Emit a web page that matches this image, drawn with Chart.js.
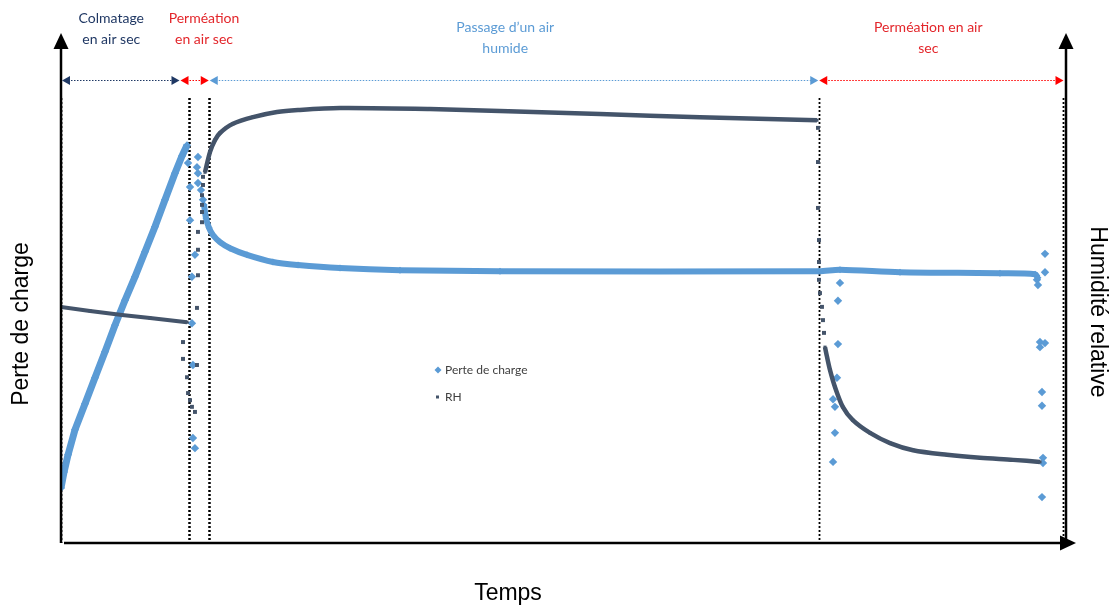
<!DOCTYPE html>
<html lang="fr">
<head>
<meta charset="utf-8">
<title>Perte de charge et humidité relative</title>
<script src="https://cdn.jsdelivr.net/npm/chart.js@4.4.1/dist/chart.umd.min.js"></script>
<style>
  html, body { margin: 0; padding: 0; background: #fff; }
</style>
</head>
<body>
<canvas id="myChart" width="1112" height="607"></canvas>
<script>
// Data: [temps, valeur] (arbitrary units, 0-1000 / 0-100)
const perteRampe = [[0,10.8],[3,13.9],[7,17.3],[13.9,22.2],[23.9,27.3],[33.8,32.4],[43.8,37.5],[53.7,42.7],
  [63.7,47.6],[73.6,52.2],[83.6,57.1],[93.5,62.0],[103.5,67.3],[113.4,72.5],[120.4,75.9],[125.4,78.0]];
const perteDecroissance = [[142.3,66.3],[144.3,63.7],[147.3,61.8],[151.2,60.4],[158.2,59.0],[168.2,57.8],[185.1,56.5],
  [210.9,55.1],[235.8,54.5],[277.6,53.9],[337.3,53.5],[436.8,53.3],[754.2,53.3],[775.1,53.6],[834.8,53.1],
  [934.3,52.9],[969.2,52.7],[972.1,52.0]];
const perteIsoles = [[136.3,75.7],[126.4,74.5],[135.3,73.7],[136.3,72.5],[136.3,70.6],[128.4,69.8],[139.3,69.2],
  [141.3,67.3],[128.4,63.3],[133.3,56.5],[130.3,52.2],[130.3,43.1],[131.3,34.9],[131.3,20.6],[133.3,18.6],
  [775.1,51.0],[773.1,47.5],[773.1,39.0],[772.1,32.4],[768.2,28.2],[770.1,26.7],[770.1,21.6],[768.2,15.9],
  [979.1,56.7],[979.1,53.1],[971.1,51.6],[972.1,50.6],[974.1,39.4],[979.1,39.2],[974.1,38.4],[976.1,29.6],
  [976.1,26.9],[977.1,16.7],[977.1,15.7],[976.1,9.0]];

const rhDebut = [[0,46.3],[28.9,45.5],[60.7,44.7],[88.6,44.1],[125.4,43.3]];
const rhMontee = [[143.3,72.7],[148.3,76.7],[153.2,79.0],[158.2,80.4],[171.1,82.2],[191.0,83.5],[214.9,84.5],
  [235.8,84.9],[277.6,85.3],[367.2,85.1],[436.8,84.7],[536.3,84.1],[635.8,83.5],[752.2,82.9]];
const rhSechage = [[760.2,38.4],[762.2,36.5],[765.2,33.9],[770.1,30.6],[777.9,26.7],[787.9,24.1],[805.0,21.6],
  [824.9,19.6],[847.8,18.2],[881.6,17.3],[914.4,16.7],[947.3,16.3],[974.1,15.9]];
const rhIsoles = [[121.4,39.4],[121.4,36.1],[125.4,32.5],[126.4,29.4],[128.4,28.0],[130.3,26.7],[133.3,25.7],
  [135.3,34.9],[135.3,46.1],[136.3,52.5],[136.3,57.5],[136.3,61.0],[140.3,62.9],[140.3,64.9],[140.3,66.3],
  [140.3,68.2],[141.3,70.2],[141.3,71.8],
  [753.2,81.4],[753.2,74.7],[753.2,65.7],[754.2,59.4],[754.2,55.1],[754.2,51.6],[755.2,49.0],[757.2,46.3],
  [758.2,43.7],[759.2,41.2]];

// phases (top annotations)
const phaseLabels = [["Colmatage", "en air sec"], ["Perméation", "en air sec"], ["Passage d\u2019un air", "humide"], ["Perméation en air", "sec"]];
const phaseColors = ["#203864", "#e3262b", "#5b9bd5", "#e3262b"];
const arrowColors = ["#1f3864", "#ff0000", "#5b9bd5", "#ff0000"];
const phaseLimits = [0, 118.4, 147.5, 754, 998];
const dottedLines = [0, 127.4, 147.3, 754.2, 997];

const BLUE = "#5b9bd5";
const NAVY = "#44546a";

const pts = arr => arr.map(p => ({ x: p[0], y: p[1] }));

function serie(data, color, style, radius, line, width, tension) {
  return {
    data: pts(data),
    borderColor: color,
    backgroundColor: color,
    pointStyle: style,
    pointRadius: radius,
    pointBorderWidth: 0,
    showLine: line,
    borderWidth: width,
    tension: tension || 0
  };
}

function arrowHead(ctx, x, yy, dir, color) {
  ctx.fillStyle = color;
  ctx.beginPath();
  ctx.moveTo(x, yy);
  ctx.lineTo(x - dir * 8, yy - 4.5);
  ctx.lineTo(x - dir * 8, yy + 4.5);
  ctx.closePath();
  ctx.fill();
}

const decor = {
  id: 'decor',
  beforeDatasetsDraw(chart) {
    const { ctx, scales: { x, y } } = chart;
    ctx.save();
    ctx.strokeStyle = "#000";
    ctx.setLineDash([2, 2]);
    dottedLines.forEach((t, i) => {
      const px = Math.round(x.getPixelForValue(t)) + 0.5;
      ctx.lineWidth = (i === 1 || i === 2) ? 2.5 : 1.8;
      ctx.beginPath();
      ctx.moveTo(px, 98);
      ctx.lineTo(px, y.bottom);
      ctx.stroke();
    });
    ctx.restore();
  },
  afterDraw(chart) {
    const { ctx, scales: { x, y } } = chart;
    const L = x.left, R = x.right, B = y.bottom, T = y.top;
    ctx.save();

    // axes with arrows
    ctx.strokeStyle = "#000";
    ctx.fillStyle = "#000";
    ctx.lineWidth = 2.5;
    ctx.beginPath();
    ctx.moveTo(L, B); ctx.lineTo(L, T + 14);
    ctx.moveTo(R, B); ctx.lineTo(R, T + 14);
    ctx.moveTo(L + 3, B); ctx.lineTo(R - 3, B);
    ctx.stroke();
    [[L, T], [R, T]].forEach(([ax, ay]) => {
      ctx.beginPath();
      ctx.moveTo(ax, ay); ctx.lineTo(ax - 7.5, ay + 16); ctx.lineTo(ax + 7.5, ay + 16);
      ctx.closePath(); ctx.fill();
    });
    ctx.beginPath();
    ctx.moveTo(R + 10, B); ctx.lineTo(R - 6, B - 7.5); ctx.lineTo(R - 6, B + 7.5);
    ctx.closePath(); ctx.fill();

    // phase arrows
    const ay = 80.5;
    for (let i = 0; i < 4; i++) {
      const x0 = x.getPixelForValue(phaseLimits[i]) + (i === 0 ? 1 : 0.5);
      const x1 = x.getPixelForValue(phaseLimits[i + 1]) - 0.5;
      ctx.strokeStyle = arrowColors[i];
      ctx.lineWidth = 1;
      ctx.setLineDash([1.5, 1.5]);
      ctx.beginPath();
      ctx.moveTo(x0 + 6, ay); ctx.lineTo(x1 - 6, ay);
      ctx.stroke();
      ctx.setLineDash([]);
      arrowHead(ctx, x0, ay, -1, arrowColors[i]);
      arrowHead(ctx, x1, ay, 1, arrowColors[i]);
    }

    // phase labels
    const labelT = [50, 142.3, 442, 863];
    const labelY = [18, 18, 27, 27];
    ctx.font = "14px Lato";
    ctx.textAlign = "center";
    ctx.textBaseline = "middle";
    phaseLabels.forEach((lines, i) => {
      ctx.fillStyle = phaseColors[i];
      lines.forEach((s, j) => ctx.fillText(s, x.getPixelForValue(labelT[i]), labelY[i] + j * 21));
    });

    // axis titles
    ctx.fillStyle = "#000";
    ctx.font = "23px 'Liberation Sans', Arial, sans-serif";
    ctx.fillText("Temps", 508, 594);
    ctx.save();
    ctx.translate(22, 324);
    ctx.rotate(-Math.PI / 2);
    ctx.fillText("Perte de charge", 0, 0);
    ctx.restore();
    ctx.save();
    ctx.translate(1097, 312);
    ctx.rotate(Math.PI / 2);
    ctx.fillText("Humidité relative", 0, 0);
    ctx.restore();

    // legend
    ctx.textAlign = "left";
    ctx.font = "12px Lato";
    ctx.fillStyle = "#404040";
    ctx.fillText("Perte de charge", 445, 370);
    ctx.fillText("RH", 445, 397);
    ctx.fillStyle = BLUE;
    ctx.beginPath();
    ctx.moveTo(438, 366.5); ctx.lineTo(441.5, 370); ctx.lineTo(438, 373.5); ctx.lineTo(434.5, 370);
    ctx.closePath(); ctx.fill();
    ctx.fillStyle = NAVY;
    ctx.fillRect(436, 395.5, 3, 3);

    ctx.restore();
  }
};

new Chart(document.getElementById('myChart'), {
  type: 'scatter',
  data: {
    datasets: [
      serie(rhDebut, NAVY, 'rect', 2.2, true, 4),
      serie(rhMontee, NAVY, 'rect', 2.2, true, 4.5, 0.3),
      serie(rhSechage, NAVY, 'rect', 2.2, true, 4.5, 0.3),
      serie(rhIsoles, NAVY, 'rect', 2.8, false, 0),
      serie(perteRampe, BLUE, 'rectRot', 4, true, 7),
      serie(perteDecroissance, BLUE, 'rectRot', 3.5, true, 6, 0.3),
      serie(perteIsoles, BLUE, 'rectRot', 4.2, false, 0)
    ]
  },
  options: {
    responsive: false,
    animation: false,
    layout: { padding: { left: 61, right: 46, top: 33, bottom: 64 } },
    scales: {
      x: { type: 'linear', min: 0, max: 1000, display: false },
      y: { type: 'linear', min: 0, max: 100, display: false }
    },
    plugins: { legend: { display: false }, tooltip: { enabled: false } }
  },
  plugins: [decor]
});
</script>
</body>
</html>
